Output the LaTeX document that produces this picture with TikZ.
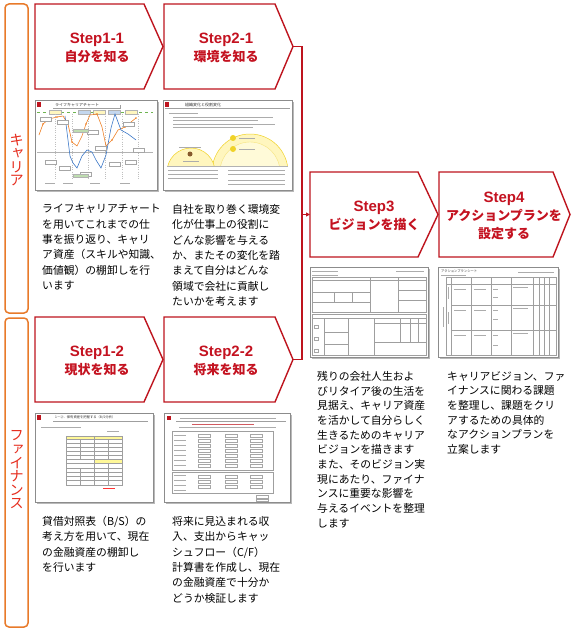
\documentclass[tikz,border=0pt]{standalone}
\usepackage{fontspec}
\setmainfont{Liberation Sans}
\newfontfamily\jp{Noto Sans CJK JP}
\newfontfamily\jpv[RawFeature=+vert]{Noto Sans CJK JP}
\usetikzlibrary{arrows.meta}
\definecolor{chevred}{RGB}{190,20,30}
\definecolor{stepred}{RGB}{196,18,32}
\definecolor{sideor}{RGB}{232,122,42}
\definecolor{sidetext}{RGB}{230,45,30}
\definecolor{thumbgray}{RGB}{140,140,140}
\definecolor{shadowgray}{RGB}{185,185,185}
\definecolor{lightyel}{RGB}{255,246,190}
\definecolor{yeledge}{RGB}{240,210,40}
\definecolor{chartor}{RGB}{240,130,40}
\definecolor{chartbl}{RGB}{60,120,200}
\definecolor{chartgr}{RGB}{110,180,80}
\tikzset{
  chev/.style={draw=chevred, line width=1.4pt, fill=white, line join=miter},
  steplabel/.style={text=stepred, align=center, inner sep=0pt,
    font=\bfseries\fontsize{15}{18}\selectfont},
  jpstep/.style={},
  sidebox/.style={draw=sideor, line width=1.5pt, rounded corners=4pt},
  sidelabel/.style={text=sidetext, align=center, inner sep=0pt,
    font=\jpv\fontsize{14.5}{13.6}\selectfont},
  bodytext/.style={anchor=north west, align=left, inner sep=0pt,
    font=\jp\fontsize{10.8}{15.4}\selectfont},
  bodytextr/.style={anchor=north west, align=left, inner sep=0pt,
    font=\jp\fontsize{10.8}{14.7}\selectfont},
  connector/.style={draw=chevred, line width=1.4pt},
  thumbframe/.style={draw=thumbgray, line width=0.5pt, fill=white},
  thumbshadow/.style={fill=shadowgray},
  tl/.style={draw=gray!75, line width=0.3pt},
  txtl/.style={draw=gray!65, line width=0.9pt},
  thumbtitle/.style={font=\jp\fontsize{4}{4}\selectfont, inner sep=0pt, text=black!80, anchor=west},
  minibox/.style={draw=gray!70, line width=0.3pt, fill=white},
}
\newcommand\jpl[1]{{\jp\fontsize{13}{16}\selectfont #1}}
\begin{document}
\begin{tikzpicture}[x=1pt,y=-1pt]
\useasboundingbox (0,0) rectangle (574,634);
\fill[white] (0,0) rectangle (574,634);

% ---------- side bars ----------
\draw[sidebox] (5,4) rectangle (28,313);
\draw[sidebox] (5,318) rectangle (28,627);
\node[sidelabel] (lcareer) at (16.5,160) {キ\\ャ\\リ\\ア};
\node[sidelabel] (lfin) at (16.5,470) {フ\\ァ\\イ\\ナ\\ン\\ス};

% ---------- chevrons ----------
\draw[chev] (35,4) -- (144,4) -- (163,46.5) -- (144,89) -- (35,89) -- cycle;
\coordinate (t11) at (163,46.5);
\node[steplabel] (s11) at (97,48) {Step1-1\\\jpl{自分を知る}};

\draw[chev] (164,4) -- (275,4) -- (293,46.5) -- (275,89) -- (164,89) -- cycle;
\coordinate (t21) at (293,46.5);
\node[steplabel] (s21) at (226,48) {Step2-1\\\jpl{環境を知る}};

\draw[chev] (35,317) -- (144,317) -- (163,359.5) -- (144,402) -- (35,402) -- cycle;
\coordinate (t12) at (163,359.5);
\node[steplabel] (s12) at (97,361) {Step1-2\\\jpl{現状を知る}};

\draw[chev] (164,317) -- (275,317) -- (293,359.5) -- (275,402) -- (164,402) -- cycle;
\coordinate (t22) at (293,359.5);
\node[steplabel] (s22) at (226,361) {Step2-2\\\jpl{将来を知る}};

\draw[chev] (310,172) -- (418,172) -- (438,214.5) -- (418,257) -- (310,257) -- cycle;
\coordinate (s3w) at (310,214.5);
\node[steplabel] (s3) at (374,216) {Step3\\\jpl{ビジョンを描く}};

\draw[chev] (439,172) -- (553,172) -- (570,214.5) -- (553,257) -- (439,257) -- cycle;
\node[steplabel] (s4) at (504,216) {Step4\\\jpl{アクションプランを}\\\jpl{設定する}};

% ---------- connector ----------
\coordinate (j1) at (302,46.5);
\coordinate (j2) at (302,359.5);
\coordinate (jm) at (302,214.5);
\draw[connector] (t21) -- (j1) -- (j2) -- (t22);
\draw[draw=chevred, line width=1pt, -{Triangle[length=4pt,width=4pt]}] (jm) -- (s3w);

% ---------- body texts ----------
\node[bodytext] (d11) at (42,204) {ライフキャリアチャート\\を用いてこれまでの仕\\事を振り返り、キャリ\\ア資産（スキルや知識、\\価値観）の棚卸しを行\\います};
\node[bodytext] (d21) at (172,204) {自社を取り巻く環境変\\化が仕事上の役割に\\どんな影響を与える\\か、またその変化を踏\\まえて自分はどんな\\領域で会社に貢献し\\たいかを考えます};
\node[bodytext] (d12) at (42,516) {貸借対照表（B/S）の\\考え方を用いて、現在\\の金融資産の棚卸し\\を行います};
\node[bodytext] (d22) at (172,516) {将来に見込まれる収\\入、支出からキャッ\\シュフロー（C/F）\\計算書を作成し、現在\\の金融資産で十分か\\どうか検証します};
\node[bodytextr] (d3) at (317,371) {残りの会社人生およ\\びリタイア後の生活を\\見据え、キャリア資産\\を活かして自分らしく\\生きるためのキャリア\\ビジョンを描きます\\また、そのビジョン実\\現にあたり、ファイナ\\ンスに重要な影響を\\与えるイベントを整理\\します};
\node[bodytextr] (d4) at (447,371) {キャリアビジョン、ファ\\イナンスに関わる課題\\を整理し、課題をクリ\\アするための具体的\\なアクションプランを\\立案します};

% ---------- thumbnail A : life career chart ----------
\begin{scope}[shift={(35,100)}]
  \fill[thumbshadow] (2,2) rectangle (124,92);
  \draw[thumbframe] (0,0) rectangle (122,90);
  \fill[chevred] (2,2) rectangle (6,7);
  \node[thumbtitle] (ta) at (20,5) {ライフキャリアチャート};
  \draw[tl] (18,8.5) -- (85,8.5) -- (85,5);
  \draw[chartgr, line width=0.5pt, dashed] (2,12) -- (118,12);
  \foreach \x/\c in {14/lightyel,43/chartbl!30,58/lightyel,73/chartbl!30,90/lightyel}
    \draw[draw=gray!60, line width=0.3pt, fill=\c] (\x,10) rectangle ++(12,4);
  \draw[gray!60, line width=0.4pt] (2,52) -- (118,52);
  \foreach \x in {20,37,53,70,87,103}
    \draw[gray!50, line width=0.3pt, dotted] (\x,14) -- (\x,80);
  \draw[chartor, line width=0.6pt] (4,35) -- (8,24) -- (14,19) -- (22,17) -- (28,16) -- (33,24) -- (37,42) -- (42,46) -- (47,36) -- (51,24) -- (55,15) -- (62,14) -- (67,27) -- (71,46) -- (77,40) -- (83,30) -- (90,27) -- (96,22) -- (101,18);
  \foreach \p in {(8,24),(22,17),(37,42),(51,24),(62,14),(77,40),(90,27),(101,18)}
    \fill[chartor] \p circle (0.9);
  \draw[chartbl, line width=0.6pt] (30,16) -- (32,32) -- (35,56) -- (38,63) -- (42,68) -- (47,56) -- (52,50) -- (57,52) -- (61,60) -- (66,68) -- (71,55) -- (76,28) -- (80,14) -- (86,30) -- (93,34) -- (101,40);
  \foreach \b in {(5,17),(22,20),(52,30),(60,46),(88,22),(98,48),(10,60),(24,66),(45,72),(74,62),(90,60)}
    \draw[minibox] \b rectangle ++(11,4);
  \draw[draw=gray!60, line width=0.3pt, fill=chartgr!45] (38,29) rectangle (53,32);
  \draw[draw=gray!60, line width=0.3pt, fill=chartgr!45] (38,74) rectangle (53,77);
  \foreach \x in {10,28,55,85}
    \draw[txtl, line width=0.6pt] (\x,83) -- ++(10,0);
\end{scope}

% ---------- thumbnail B : organisation change ----------
\begin{scope}[shift={(163,100)}]
  \fill[thumbshadow] (2,2) rectangle (131,92);
  \draw[thumbframe] (0,0) rectangle (129,90);
  \fill[chevred] (2,2) rectangle (6,7);
  \node[thumbtitle] (tb) at (22,5) {組織変化と役割変化};
  \draw[tl] (2,8.5) -- (127,8.5);
  \draw[txtl, line width=0.6pt] (6,13) -- (35,13);
  \foreach \y/\l in {17/110,20/95,24/112,27/90}
    \draw[txtl, line width=0.6pt] (10,\y) -- (\l,\y);
  \begin{scope}
    \clip (0,0) rectangle (129,66);
    \draw[draw=yeledge, line width=0.5pt, fill=lightyel] (87,72) circle (38);
    \draw[draw=yeledge!60, line width=0.4pt, fill=lightyel!60] (87,72) circle (30);
    \draw[draw=yeledge, line width=0.5pt, fill=lightyel] (28,72) circle (24);
  \end{scope}
  \draw[gray!60, line width=0.4pt] (4,66) -- (125,66);
  \fill[yeledge] (70,38) circle (3);
  \fill[yeledge] (70,49) circle (3);
  \draw[txtl, line width=0.6pt] (76,38) -- (92,38);
  \draw[txtl, line width=0.6pt] (76,49) -- (92,49);
  \fill[brown!70!black] (27,54) circle (2.5);
  \draw[txtl, line width=0.5pt] (16,47) -- (38,47);
  \draw[txtl, line width=0.5pt] (20,61) -- (36,61);
  \foreach \y in {70,74,78}
    \draw[txtl, line width=0.6pt] (5,\y) -- (55,\y);
  \foreach \y in {70,74,80,84}
    \draw[txtl, line width=0.6pt] (65,\y) -- (122,\y);
\end{scope}

% ---------- thumbnail C : balance sheet ----------
\begin{scope}[shift={(35,413)}]
  \fill[thumbshadow] (2,2) rectangle (120,91);
  \draw[thumbframe] (0,0) rectangle (118,89);
  \fill[chevred] (2,2) rectangle (6,7);
  \node[thumbtitle, font=\jp\fontsize{3.3}{3.3}\selectfont] (tc) at (20,4.5) {1－②．保有資産を把握する（B/S分析）};
  \draw[tl] (18,8.5) -- (113,8.5);
  \draw[txtl, line width=0.6pt] (6,14) -- (46,14);
  \draw[txtl, line width=0.5pt] (72,18) -- (84,18);
  \fill[lightyel!80!yellow] (31,23) rectangle (87,26.5);
  \fill[lightyel!80!yellow] (59,47) rectangle (87,50.5);
  \draw[tl] (31,23) rectangle (87,72);
  \draw[tl] (59,23) -- (59,72);
  \foreach \y in {26.5,30,34,38,42,46,50.5,55,59,63,67}
    \draw[tl] (31,\y) -- (87,\y);
  \draw[tl] (45,26.5) -- (45,46);
  \draw[tl] (73,26.5) -- (73,46);
  \draw[tl] (45,55) -- (45,72);
  \draw[tl] (73,50.5) -- (73,72);
  \draw[red!80, line width=0.8pt] (68,75) -- (80,75);
\end{scope}

% ---------- thumbnail D : cash flow ----------
\begin{scope}[shift={(164,413)}]
  \fill[thumbshadow] (2,2) rectangle (128,91);
  \draw[thumbframe] (0,0) rectangle (126,89);
  \fill[chevred] (3,3) rectangle (7,7);
  \draw[txtl, line width=0.8pt] (16,5) -- (112,5);
  \draw[tl] (12,8.5) -- (122,8.5);
  \draw[chevred!70, line width=0.6pt] (28,11) -- (90,11);
  \draw[txtl, line width=0.6pt] (15,14.5) -- (112,14.5);
  \draw[tl] (8,18) rectangle (109,57);
  \foreach \y in {22,27,32,37,42,47,52}
    \draw[txtl, line width=0.5pt] (10,\y) -- (22,\y);
  \foreach \x in {34,61,86}
    \foreach \y in {21,26,31,36,41,46,51}
      \draw[minibox] (\x,\y) rectangle ++(12,3.2);
  \draw[tl] (8,59) rectangle (109,80);
  \foreach \x in {34,61,86}
    \foreach \y in {62,67,72}
      \draw[minibox] (\x,\y) rectangle ++(12,3.2);
  \foreach \y in {62,67,72,77}
    \draw[txtl, line width=0.5pt] (10,\y) -- (22,\y);
  \draw[minibox] (92,82) rectangle ++(12,3);
  \draw[minibox] (92,86) rectangle ++(12,2.5);
\end{scope}

% ---------- thumbnail E : vision sheet ----------
\begin{scope}[shift={(310,267)}]
  \fill[thumbshadow] (2,2) rectangle (120,92);
  \draw[thumbframe] (0,0) rectangle (118,90);
  \draw[txtl, line width=0.7pt] (2,4) -- (28,4);
  \draw[txtl, line width=0.5pt] (86,4) -- (114,4);
  \draw[txtl, line width=0.5pt] (2,8) -- (28,8);
  \draw[tl] (2,10) rectangle (116,45);
  \draw[tl] (60,10) -- (60,45);
  \draw[tl] (88,10) -- (88,45);
  \draw[tl] (2,13) -- (116,13);
  \draw[tl] (2,25) -- (60,25);
  \draw[tl] (88,23) -- (116,23);
  \draw[tl] (88,33) -- (116,33);
  \draw[tl] (2,35) -- (60,35);
  \draw[tl] (24,25) -- (24,35);
  \draw[tl] (42,25) -- (42,35);
  \draw[tl] (2,47) rectangle (116,88);
  \draw[tl] (2,51) -- (116,51);
  \draw[tl] (14,51) -- (14,88);
  \draw[tl] (38,51) -- (38,88);
  \draw[tl] (64,51) -- (64,88);
  \draw[tl] (14,65) -- (38,65);
  \draw[tl] (14,77) -- (38,77);
  \draw[tl] (64,56) -- (116,56);
  \draw[tl] (64,75) -- (116,75);
  \draw[tl] (90,51) -- (90,75);
  \draw[tl] (100,51) -- (100,75);
  \draw[tl] (108,51) -- (108,75);
  \foreach \y in {58,70,82}
    \draw[minibox] (4,\y) rectangle ++(4,3);
\end{scope}

% ---------- thumbnail F : action plan sheet ----------
\begin{scope}[shift={(438,267)}]
  \fill[thumbshadow] (2,2) rectangle (122,92);
  \draw[thumbframe] (0,0) rectangle (120,90);
  \node[thumbtitle, font=\jp\fontsize{3.3}{3.3}\selectfont] (tf) at (3,4) {アクションプランシート};
  \draw[txtl, line width=0.5pt] (80,5) -- (116,5);
  \draw[txtl, line width=0.5pt] (3,8) -- (28,8);
  \draw[tl] (8,10) rectangle (118,88);
  \draw[tl] (8,17) -- (118,17);
  \foreach \x in {13,33,53,73,95,101,106,111}
    \draw[tl] (\x,10) -- (\x,88);
  \draw[tl] (13,38) -- (118,38);
  \draw[tl] (13,63) -- (118,63);
  \foreach \y in {22,43,68}
    \draw[txtl, line width=0.5pt] (16,\y) -- (28,\y);
  \foreach \y in {22,43,68}
    \draw[txtl, line width=0.5pt] (36,\y) -- (48,\y);
  \foreach \y in {22,30,43,52,68,78}
    \draw[txtl, line width=0.5pt] (55,\y) -- (60,\y);
  \foreach \y in {20,41,66}
    \draw[txtl, line width=0.5pt] (75,\y) -- (90,\y);
  \draw[txtl, line width=0.5pt] (5,40) -- (5,60);
  \draw[txtl, line width=0.5pt] (10,20) -- (10,32);
  \draw[txtl, line width=0.5pt] (10,45) -- (10,57);
\end{scope}
\end{tikzpicture}
\end{document}
